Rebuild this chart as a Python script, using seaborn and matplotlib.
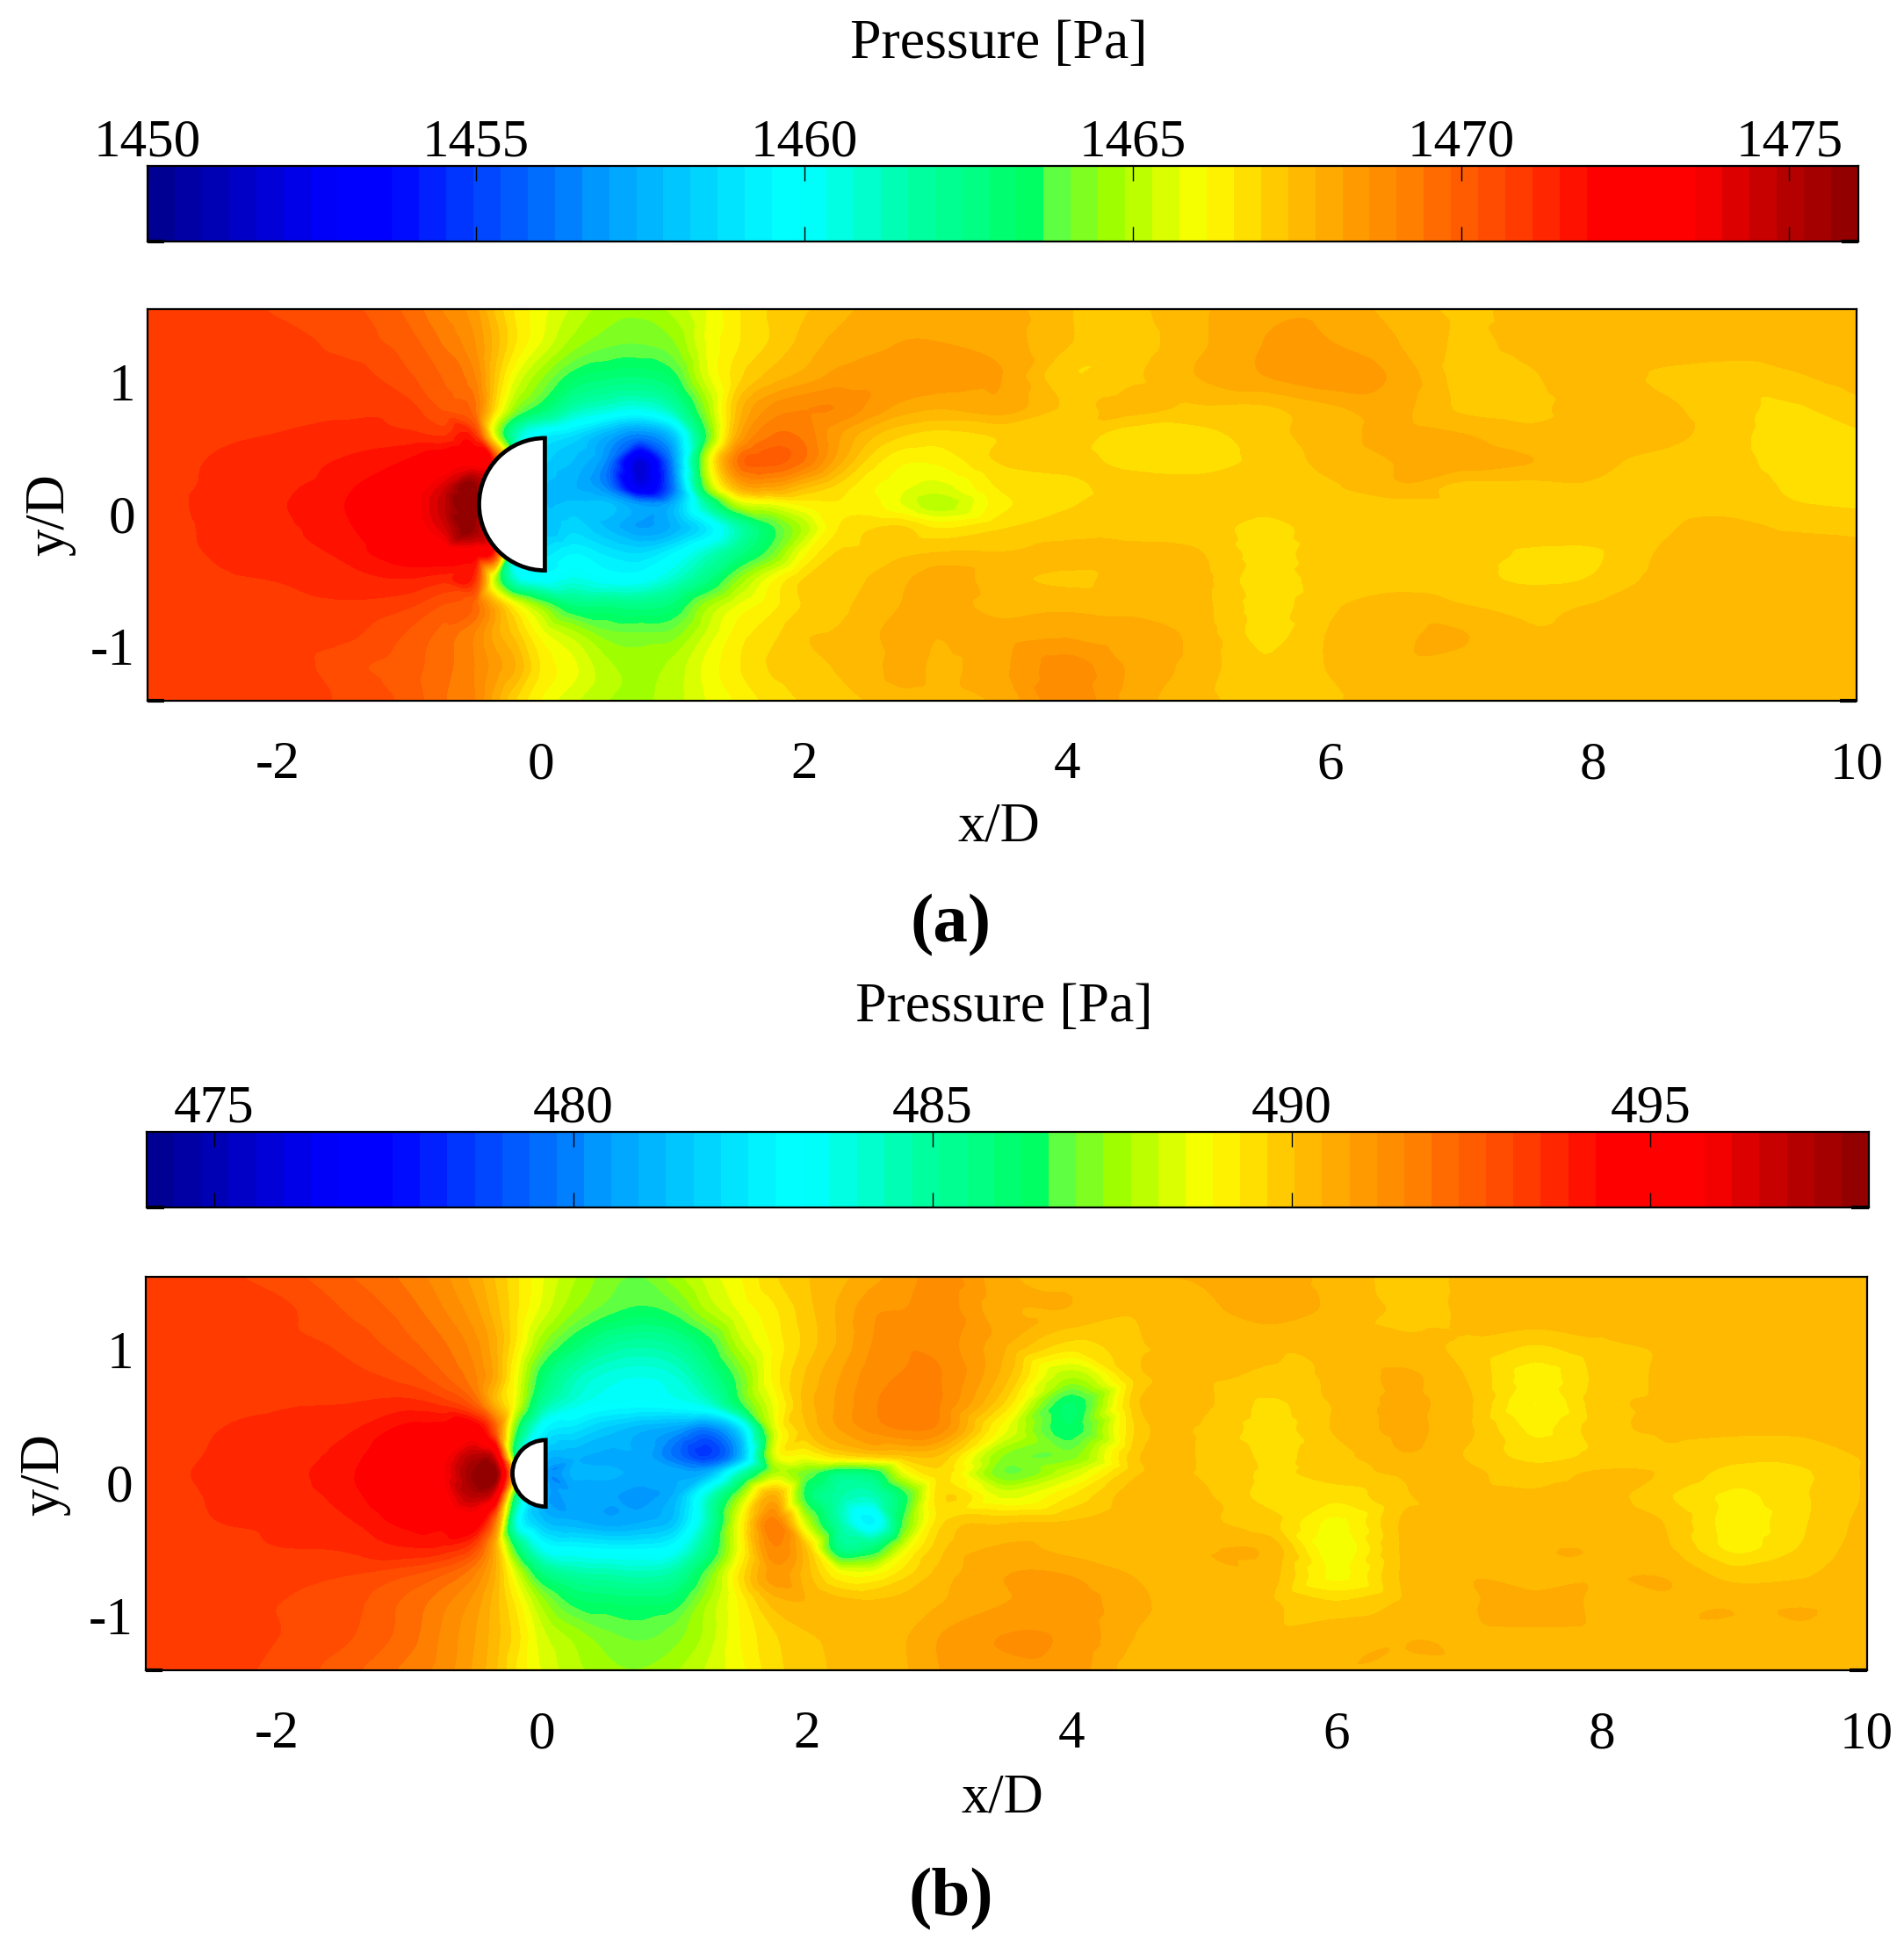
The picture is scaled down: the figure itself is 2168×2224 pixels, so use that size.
import numpy as np
import pandas as pd
import seaborn as sns
import matplotlib.pyplot as plt
import matplotlib.tri as mtri
from matplotlib.colors import LinearSegmentedColormap, ListedColormap, BoundaryNorm
from matplotlib.patches import Wedge

sns.set_theme(style="white", rc={"axes.linewidth": 1.6, "axes.edgecolor": "black"})
plt.rcParams['font.family'] = ['Liberation Serif', 'DejaVu Serif']

# ======================
# values

x_stations = [-3, -2.5, -2, -1.5, -1, -0.75, -0.5, -0.35, -0.2, 0,
              0.25, 0.5, 0.75, 1, 1.25, 1.5, 1.75, 2, 2.25, 2.5, 2.75, 3,
              3.5, 4, 4.5, 5, 5.5, 6, 6.5, 7, 7.5, 8, 8.5, 9, 9.5, 10]
y_stations = [1.55, 1.3, 1.05, 0.8, 0.6, 0.4, 0.2, 0.07, -0.1, -0.3, -0.5, -0.7, -0.9, -1.15, -1.41]

pressure_a = [
    [1471, 1471, 1470.6, 1470.4, 1469.7, 1469, 1468.3, 1467.3, 1466.5, 1465.9,
     1465.2, 1464.7, 1464.6, 1465, 1465.7, 1466.5, 1467, 1467.3, 1467.6, 1467.9, 1468, 1468,
     1468, 1467.4, 1467.3, 1467.7, 1468.1, 1468.1, 1467.6, 1467.3, 1467.5, 1467.6, 1467.6, 1467.6, 1467.6, 1467.6],
    [1471, 1471, 1470.9, 1470.5, 1470, 1469.4, 1468.6, 1467.6, 1466.6, 1465.7,
     1464.7, 1464.2, 1464.1, 1464.4, 1465.7, 1466.5, 1467, 1467.5, 1467.9, 1468, 1468.2, 1468.2,
     1468, 1467.4, 1467.2, 1467.7, 1468.2, 1468.2, 1467.8, 1467.3, 1467.5, 1467.7, 1467.7, 1467.7, 1467.7, 1467.7],
    [1471, 1471, 1471, 1470.9, 1470.3, 1469.8, 1469, 1467.3, 1465.8, 1464.6,
     1463.4, 1463, 1462.9, 1463.4, 1465.5, 1466.8, 1467.5, 1467.9, 1468.3, 1468.5, 1468.6, 1468.5,
     1468.2, 1467, 1467.3, 1467.8, 1468.2, 1468.5, 1468.1, 1467.2, 1467.3, 1467.7, 1467.3, 1467.1, 1467.3, 1467.6],
    [1470.95, 1471, 1470.95, 1471, 1470.8, 1470.2, 1469.5, 1466.8, 1464.6, 1463.2,
     1461.5, 1460.8, 1460.4, 1461.5, 1464.5, 1467.5, 1468.7, 1469, 1469, 1468.5, 1468, 1467.8,
     1468, 1467.3, 1467.5, 1467.3, 1467.3, 1467.7, 1467.9, 1467.3, 1467.2, 1467.7, 1467.5, 1467.1, 1466.9, 1467.2],
    [1471, 1471.05, 1471.1, 1471.25, 1471.2, 1471, 1471, 1465.5, 1461.5, 1459.5,
     1458.7, 1457.5, 1456.5, 1458, 1463.5, 1468, 1469.4, 1469.3, 1468.3, 1467.5, 1467, 1466.8,
     1467, 1467.2, 1466.7, 1466.8, 1467.2, 1467.6, 1467.9, 1467.8, 1467.5, 1467.6, 1467.6, 1467.1, 1466.8, 1466.9],
    [1471, 1471.1, 1471.25, 1471.55, 1472, 1472.6, 1473, 1471, 1460, 1458.5,
     1457.8, 1456.5, 1452, 1456.5, 1465, 1469.5, 1470, 1469.4, 1468, 1466.8, 1466.2, 1466.2,
     1467, 1467.1, 1466.8, 1466.7, 1467.1, 1467.5, 1467.8, 1468, 1467.8, 1467.5, 1467.2, 1467.1, 1466.8, 1466.7],
    [1471, 1471.13, 1471.4, 1471.8, 1472.9, 1474.2, 1475.8, 1470, 1460, 1458,
     1457.5, 1456.5, 1452.5, 1456, 1464, 1467.7, 1468.1, 1467.4, 1466.8, 1466.2, 1465.8, 1465.5,
     1466.6, 1466.8, 1467.2, 1467.2, 1467.2, 1467.3, 1467.7, 1467.2, 1467.2, 1467.3, 1467.2, 1467.2, 1466.9, 1466.7],
    [1471, 1471.15, 1471.45, 1471.9, 1473, 1474.6, 1476, 1470, 1460, 1458,
     1458, 1458, 1457, 1457.5, 1461.5, 1465, 1465.6, 1466.2, 1466.5, 1466.3, 1465.7, 1465,
     1466.4, 1466.9, 1467.2, 1467.2, 1467.1, 1467.3, 1467.2, 1467.2, 1467.2, 1467.2, 1467.2, 1467.2, 1467, 1466.9],
    [1471, 1471.13, 1471.4, 1471.8, 1472.9, 1474.2, 1475.6, 1470, 1460, 1458,
     1458.5, 1457.8, 1457, 1457.5, 1459, 1461.5, 1463.5, 1465, 1466.5, 1466.9, 1467, 1466.5,
     1466.9, 1467.2, 1467.2, 1467.2, 1466.8, 1467.2, 1467.2, 1467.2, 1467.2, 1467.2, 1467.3, 1467.5, 1467.3, 1467.2],
    [1471, 1471.1, 1471.25, 1471.6, 1472.4, 1472.6, 1472.5, 1471, 1460, 1459,
     1459.5, 1459, 1458.7, 1459.5, 1461, 1462.5, 1464, 1466, 1467, 1467.1, 1467.3, 1467.4,
     1467.4, 1467.5, 1467.5, 1467.4, 1466.8, 1467.2, 1467.2, 1467.2, 1466.9, 1466.9, 1467.4, 1467.6, 1467.7, 1467.6],
    [1471, 1471.05, 1471.1, 1471.3, 1471.45, 1471.2, 1471, 1465, 1461, 1460,
     1460.5, 1460, 1460, 1461, 1462.5, 1464.5, 1466, 1467, 1467.1, 1467.4, 1467.7, 1468.1,
     1467.5, 1467.3, 1467.5, 1467.5, 1466.7, 1467.2, 1467.2, 1467.1, 1466.9, 1467, 1467.5, 1467.7, 1467.7, 1467.7],
    [1470.95, 1471, 1470.95, 1471, 1470.7, 1470.2, 1469.7, 1468, 1466.3, 1464.6,
     1462.9, 1462.8, 1462.6, 1463, 1464.7, 1465.8, 1466.4, 1467, 1467.2, 1467.6, 1467.8, 1468,
     1467.6, 1467.7, 1467.6, 1467.5, 1466.8, 1467.3, 1467.6, 1467.4, 1467.3, 1467.4, 1467.6, 1467.7, 1467.7, 1467.7],
    [1471, 1471, 1471, 1470.8, 1470.2, 1469.7, 1469, 1468, 1467.2, 1465.9,
     1465, 1464.2, 1464.1, 1464.2, 1465.3, 1466.3, 1466.8, 1467.3, 1467.4, 1467.7, 1467.9, 1467.8,
     1468, 1468.1, 1468.1, 1467.6, 1466.8, 1467.4, 1467.7, 1467.8, 1467.4, 1467.5, 1467.7, 1467.7, 1467.7, 1467.7],
    [1471, 1471, 1471, 1470.4, 1470, 1469.6, 1469, 1468.4, 1467.8, 1466.5,
     1465.8, 1465, 1464.7, 1465, 1465.8, 1466.5, 1467, 1467.2, 1467.4, 1467.6, 1468, 1467.7,
     1468.1, 1468.8, 1468.1, 1467.6, 1467, 1467.4, 1467.7, 1467.7, 1467.7, 1467.7, 1467.7, 1467.7, 1467.7, 1467.7],
    [1471, 1471, 1470.9, 1470.6, 1470.1, 1469.5, 1469, 1468, 1467, 1466.1,
     1465.4, 1464.9, 1464.8, 1465.1, 1465.7, 1466.2, 1466.7, 1467, 1467.2, 1467.4, 1467.6, 1467.6,
     1467.9, 1468.9, 1468, 1467.5, 1467.2, 1467.3, 1467.7, 1467.7, 1467.7, 1467.7, 1467.7, 1467.7, 1467.7, 1467.7],
]

pressure_b = [
    [493.2, 493.2, 492.9, 492.4, 491.8, 491.3, 490.6, 490, 489.4, 488.6,
     487.8, 487.2, 487, 487.6, 488.3, 488.9, 489.6, 490, 490.3, 490.7, 491, 491.4,
     490.5, 490.4, 490.4, 490.5, 490.8, 490.2, 490, 490.1, 490.4, 490.1, 490.4, 490.4, 490.4, 490.4],
    [493.2, 493.2, 493.2, 492.7, 492.1, 491.6, 490.9, 490.2, 489.4, 488.4,
     487.4, 486.8, 486.5, 486.8, 487.8, 488.6, 489.2, 489.9, 490.5, 491.1, 491.2, 491.4,
     490.5, 490.4, 490.1, 490.3, 490.7, 490.3, 490, 490.1, 490.4, 490.1, 490.3, 490.4, 490.4, 490.4],
    [493.2, 493.2, 493.2, 493, 492.4, 492, 491.3, 490.5, 489.3, 487.5,
     486.2, 485.2, 484.9, 485.2, 486.3, 488, 489, 489.8, 490.5, 491.2, 491.5, 491.4,
     490.5, 489.6, 490, 490.4, 490.1, 490.1, 490.1, 490, 489.7, 490, 490.1, 490.1, 490.4, 490.4],
    [493.2, 493.1, 493.2, 493.2, 492.9, 492.4, 491.6, 490.6, 488.8, 486.2,
     484.5, 483.8, 483.6, 483.9, 485.2, 487, 489, 490.1, 490.8, 491.4, 491.6, 491.6,
     490.2, 487.8, 489.9, 490.1, 490, 490.1, 490.5, 490, 489.1, 489.8, 490.1, 490.1, 490.3, 490.4],
    [493.2, 493.25, 493.42, 493.45, 493.6, 493.3, 492.3, 490.3, 488.6, 485.2,
     483.8, 483.2, 483.1, 483.3, 484, 486.5, 488.6, 490.2, 490.9, 491.5, 491.8, 491.6,
     489.6, 486.2, 490, 490.1, 489.6, 490.1, 490.5, 490.1, 488.9, 489.9, 490.1, 490.1, 490.1, 490.2],
    [493.2, 493.45, 493.55, 493.75, 494.4, 494.5, 494.8, 492.5, 487, 483,
     482.2, 481.5, 481, 480.6, 479.8, 482, 488.2, 490, 490.8, 491.3, 491.6, 491.4,
     488.6, 486.3, 489.8, 490, 489.5, 490.1, 490.5, 490.1, 489.2, 489.9, 490.1, 490.1, 490.1, 490.1],
    [493.2, 493.5, 493.65, 494, 494.9, 495.4, 497, 496, 486, 481.5,
     481, 480.8, 480.8, 479.7, 478.6, 481, 488.2, 488.8, 489.5, 489.8, 490, 490,
     487.3, 487.2, 490, 490, 489.6, 489.9, 490.4, 490, 489.5, 489.8, 490, 489.8, 489.8, 490.1],
    [493.25, 493.55, 493.7, 494.1, 495, 495.6, 497.8, 498, 490, 481,
     481, 481, 480.8, 480.8, 481, 484.5, 487.7, 487, 485.7, 486, 488.6, 489.5,
     487, 488.2, 490, 490, 489.6, 489.9, 490.1, 490.1, 489.9, 490.1, 490, 489.5, 489.6, 490.1],
    [493.2, 493.5, 493.65, 494, 494.9, 495.4, 497, 495.5, 486, 481,
     480.7, 480.6, 480.4, 481, 484, 487.5, 490.5, 486.3, 484.8, 484.5, 486.5, 489.5,
     488.4, 489.3, 490.3, 490.1, 489.5, 489.4, 490, 490.1, 490.1, 490.2, 489.7, 489.2, 489.6, 490.1],
    [493.2, 493.45, 493.55, 493.75, 494.4, 494.5, 494.8, 491.8, 484, 481.5,
     481, 480.7, 480.9, 481.5, 484.5, 488.8, 491.8, 488, 484.7, 482.7, 487, 489.5,
     490, 490.1, 490.3, 490.1, 489.8, 488.8, 490.1, 490.1, 490.2, 490.4, 490, 489.1, 489.6, 490.2],
    [493.2, 493.3, 493.45, 493.5, 493.8, 493.7, 492.8, 490.5, 486.5, 483.5,
     483, 482.8, 482.8, 483.2, 485.5, 488.8, 491.5, 490, 485.6, 486, 488.6, 489.9,
     490.5, 490.3, 490.2, 490.4, 490.3, 488.6, 490.1, 490.2, 490.4, 490.4, 490.1, 489.2, 489.7, 490.3],
    [493.2, 493.1, 493.2, 493.1, 492.7, 492.3, 491.5, 490.4, 488.5, 486,
     485, 484.8, 484.6, 485, 487, 489.4, 491, 490.2, 489, 488.9, 489.6, 490.2,
     490.8, 490.8, 490.4, 490.3, 490.2, 488.8, 490.1, 490.4, 490.3, 490.4, 490.4, 489.9, 490, 490.4],
    [493.2, 493.2, 493.1, 492.9, 492.2, 491.7, 491, 490.2, 489.2, 487.6,
     486.4, 486.2, 486.1, 486.3, 487.7, 489, 490.2, 490.4, 490.2, 490.1, 490.2, 490.4,
     490.8, 491, 490.5, 490.2, 490.1, 489.7, 490.1, 490.4, 490.5, 490.4, 490.4, 490.4, 490.4, 490.4],
    [493.2, 493.2, 493.1, 492.8, 492.1, 491.5, 490.8, 490.2, 489.5, 488.3,
     487.6, 487.1, 486.9, 487.2, 487.9, 488.9, 489.6, 490, 490.1, 490.2, 490.4, 490.8,
     491.2, 491.1, 490.4, 490.2, 490.1, 490.3, 490.4, 490.4, 490.4, 490.4, 490.4, 490.4, 490.4, 490.4],
    [493.2, 493.2, 493, 492.5, 491.8, 491.4, 490.7, 490.1, 489.3, 488.5,
     487.9, 487.5, 487.4, 487.7, 488.2, 488.8, 489.5, 489.9, 490.1, 490.2, 490.4, 490.8,
     491.1, 491, 490.2, 490.2, 490.1, 490.4, 490.4, 490.4, 490.4, 490.4, 490.4, 490.4, 490.4, 490.4],
]

scale_a = (1450, 1476.05)
scale_b = (474.06, 498.04)
bar_ticks_a = [1450, 1455, 1460, 1465, 1470, 1475]
bar_ticks_b = [475, 480, 485, 490, 495]
x_ticks = [-2, 0, 2, 4, 6, 8, 10]
y_ticks = [-1, 0, 1]

# colour bar anchors, as seen on the bars
anchor_pos = [0, 0.108, 0.14, 0.19, 0.27, 0.37, 0.385, 0.45, 0.52, 0.526, 0.565, 0.617,
              0.655, 0.666, 0.68, 0.69, 0.736, 0.80, 0.848, 0.905, 0.95, 1]
anchor_col = ['#00008b', '#0000ff', '#0000ff', '#0040ff', '#00a0ff', '#00ffff', '#00ffff',
              '#00ffa0', '#00ff60', '#50ff50', '#a0ff00', '#ffff00', '#ffd000', '#ffc000',
              '#ffb400', '#ffaa00', '#ff8000', '#ff4000', '#ff0000', '#ff0000', '#c00000', '#8b0000']
n_bands = 63

W, H = 2168, 2224
rainbow = LinearSegmentedColormap.from_list('rainbow', list(zip(anchor_pos, anchor_col)))
band_colors = sns.color_palette([rainbow((i + 0.5) / n_bands) for i in range(n_bands)])
band_cmap = ListedColormap(band_colors)

fig = plt.figure(figsize=(W / 100, H / 100), dpi=100)


def box(x0, x1, y0, y1):
    # pixel box to figure fraction
    return [x0 / W, 1 - y1 / H, (x1 - x0) / W, (y1 - y0) / H]


def corner_stubs(ax):
    ax.plot([0, 0.01], [0, 0], transform=ax.transAxes, color='black', lw=3, clip_on=False, solid_capstyle='butt')
    ax.plot([0.99, 1], [0, 0], transform=ax.transAxes, color='black', lw=3, clip_on=False, solid_capstyle='butt')


def draw_bar(rect, scale, ticks):
    cax = fig.add_axes(box(*rect))
    levels = np.linspace(scale[0], scale[1], n_bands + 1)
    norm = BoundaryNorm(levels, n_bands)
    mids = pd.DataFrame([0.5 * (levels[:-1] + levels[1:])])
    sns.heatmap(mids, ax=cax, cmap=band_cmap, norm=norm, cbar=False, xticklabels=False, yticklabels=False)
    pos = [(t - scale[0]) / (scale[1] - scale[0]) * n_bands for t in ticks]
    cax.set_xticks(pos, [str(t) for t in ticks])
    cax.set_axisbelow(False)
    cax.tick_params(axis='x', direction='in', top=True, bottom=True, labeltop=True, labelbottom=False,
                    length=12, width=1, color='black', labelsize=44, labelcolor='black', pad=-1)
    for s in cax.spines.values():
        s.set_visible(True)
        s.set_color('black')
        s.set_linewidth(1.6)
    corner_stubs(cax)
    return levels, norm


def draw_field(rect, pressure, levels, norm, body_r, body_x, body_y):
    ax = fig.add_axes(box(*rect))
    xx, yy = np.meshgrid(x_stations, y_stations)
    tri = mtri.Triangulation(xx.ravel(), yy.ravel())
    p = np.array(pressure).ravel()
    # geom keeps the smoothing local, min_E rings around the body
    interp = mtri.CubicTriInterpolator(tri, p, kind='geom')
    fine_tri, fine_p = mtri.UniformTriRefiner(tri).refine_field(p, triinterpolator=interp, subdiv=3)
    ax.tricontourf(fine_tri, fine_p, levels=levels, cmap=band_cmap, norm=norm, extend='both')
    ax.add_patch(Wedge((body_x, body_y), body_r, 90, 270, facecolor='white', edgecolor='black', lw=3.4, zorder=5))
    ax.set_xlim(-2.99, 10)
    ax.set_ylim(-1.41, 1.55)
    ax.set_xticks(x_ticks, [str(t) for t in x_ticks])
    ax.set_yticks(y_ticks, [str(t) for t in y_ticks])
    ax.tick_params(length=0, labelsize=44, labelcolor='black')
    ax.tick_params(axis='x', pad=33)
    ax.tick_params(axis='y', pad=10)
    for s in ax.spines.values():
        s.set_visible(True)
        s.set_color('black')
    corner_stubs(ax)
    return ax


# ======================
# panel a
levels_a, norm_a = draw_bar((168, 2116, 189, 275), scale_a, bar_ticks_a)
draw_field((168, 2114, 352, 798), pressure_a, levels_a, norm_a, 0.5, 0.03, 0.075)

# panel b
levels_b, norm_b = draw_bar((167, 2128, 1289, 1375), scale_b, bar_ticks_b)
draw_field((165.6, 2125.5, 1453.5, 1902), pressure_b, levels_b, norm_b, 0.25, 0.03, 0.07)


# labels
def label(px, py, s, **kw):
    fig.text(px / W, 1 - py / H, s, ha='center', va='center', color='black', **kw)


label(1137, 51, 'Pressure [Pa]', fontsize=46)
label(1143, 1148, 'Pressure [Pa]', fontsize=46)
label(1137, 943, 'x/D', fontsize=45)
label(1141, 2048, 'x/D', fontsize=45)
label(57, 586, 'y/D', fontsize=45, rotation=90)
label(51, 1679, 'y/D', fontsize=45, rotation=90)
label(1083, 1054, '(a)', fontsize=57, fontweight='bold')
label(1083, 2163, '(b)', fontsize=57, fontweight='bold')

fig.savefig('out.png', dpi=100)
